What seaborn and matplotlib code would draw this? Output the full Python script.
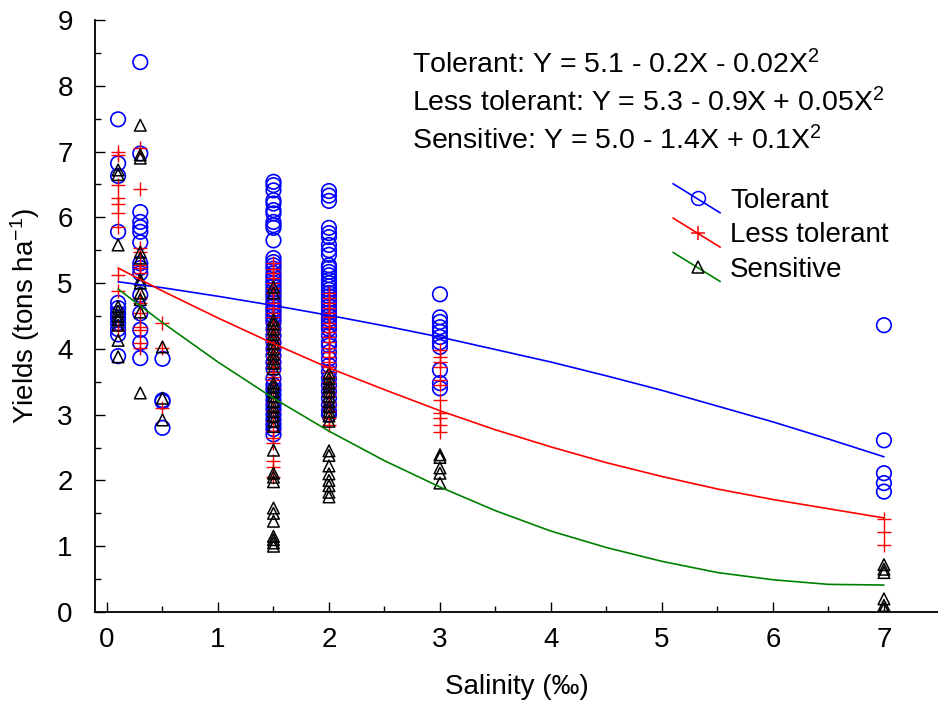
import numpy as np
import pandas as pd
import matplotlib
matplotlib.use("Agg")
import matplotlib.pyplot as plt
import seaborn as sns
from matplotlib.lines import Line2D
from matplotlib.legend_handler import HandlerBase

# ---------------- data ----------------
groups = ["Tolerant", "Less tolerant", "Sensitive"]

tol_x = [0.1] * 12 + [0.3] * 15 + [0.5] * 4 + [1.5] * 50 + [2] * 43 + [3] * 11 + [7] * 5
tol_y = [7.49, 6.82, 6.63, 5.78, 4.70, 4.62, 4.54, 4.47, 4.39, 4.30, 4.22, 3.89,
         8.36, 6.97, 6.08, 5.93, 5.85, 5.78, 5.62, 5.30, 5.23, 5.15, 4.82, 4.54, 4.29, 4.09, 3.86,
         3.85, 3.22, 3.20, 2.80,
         6.54, 6.49, 6.41, 6.26, 6.21, 6.11, 6.06, 5.93, 5.88, 5.84, 5.65, 5.38, 5.32, 5.27, 5.22,
         5.15, 5.10, 5.05, 5.00, 4.95, 4.90, 4.85, 4.80, 4.75, 4.70, 4.65, 4.60, 4.55, 4.50, 4.45,
         4.40, 4.30, 4.20, 4.10, 4.00, 3.90, 3.80, 3.70, 3.55, 3.45, 3.38, 3.30, 3.22, 3.15, 3.08,
         3.00, 2.92, 2.85, 2.78, 2.70,
         6.40, 6.33, 6.25, 5.84, 5.76, 5.70, 5.58, 5.50, 5.43, 5.27, 5.23, 5.17, 5.12, 5.05, 5.00,
         4.95, 4.90, 4.85, 4.80, 4.75, 4.70, 4.65, 4.60, 4.55, 4.50, 4.45, 4.40, 4.35, 4.30, 4.20,
         4.10, 4.05, 3.95, 3.85, 3.75, 3.65, 3.55, 3.45, 3.35, 3.25, 3.15, 3.05, 3.00,
         4.83, 4.48, 4.41, 4.33, 4.26, 4.18, 4.10, 4.03, 3.68, 3.48, 3.40,
         4.36, 2.61, 2.11, 1.96, 1.83]

less_x = [0.1] * 10 + [0.3] * 14 + [0.5] * 3 + [1.5] * 35 + [2] * 27 + [3] * 11 + [7] * 3
less_y = [6.99, 6.95, 6.49, 6.29, 6.21, 6.06, 5.85, 5.12, 4.88, 4.29,
          7.05, 6.43, 5.53, 5.47, 5.27, 5.23, 5.15, 4.77, 4.70, 4.54, 4.33, 4.29, 4.09, 4.01,
          4.39, 4.01, 3.10,
          5.30, 5.22, 5.15, 5.08, 5.00, 4.92, 4.85, 4.78, 4.70, 4.62, 4.55, 4.48, 4.40, 4.32, 4.25,
          4.18, 4.10, 4.02, 3.95, 3.88, 3.80, 3.72, 3.65, 3.58, 3.52, 3.40, 3.20, 3.05, 2.90, 2.75,
          2.65, 2.57, 2.30, 2.20, 2.05,
          4.85, 4.78, 4.70, 4.62, 4.55, 4.48, 4.40, 4.33, 4.25, 4.18, 4.10, 4.02, 3.95, 3.88, 3.80,
          3.72, 3.65, 3.58, 3.50, 3.42, 3.35, 3.28, 3.20, 3.12, 3.05, 2.95, 2.85,
          3.98, 3.88, 3.80, 3.72, 3.53, 3.45, 3.22, 3.02, 2.95, 2.84, 2.74,
          1.42, 1.22, 1.02]

sens_x = [0.1] * 10 + [0.3] * 11 + [0.5] * 3 + [1.5] * 34 + [2] * 19 + [3] * 5 + [7] * 6
sens_y = [6.72, 6.65, 5.58, 4.64, 4.57, 4.50, 4.44, 4.36, 4.13, 3.88,
          7.40, 6.95, 6.90, 5.47, 5.38, 5.05, 5.00, 4.85, 4.75, 4.56, 3.33,
          4.03, 3.25, 2.92,
          4.94, 4.85, 4.44, 4.38, 4.30, 4.22, 4.15, 4.08, 4.00, 3.92, 3.85, 3.78, 3.70, 3.48, 3.42,
          3.35, 3.28, 3.20, 3.12, 3.05, 2.98, 2.90, 2.82, 2.46, 2.11, 2.05, 1.98, 1.58, 1.50, 1.38,
          1.15, 1.10, 1.05, 1.00,
          3.63, 3.55, 3.48, 3.42, 3.35, 3.28, 3.20, 3.12, 3.05, 2.98, 2.90, 2.45, 2.38, 2.22, 2.10,
          2.00, 1.92, 1.82, 1.75,
          2.39, 2.35, 2.19, 2.11, 1.96,
          0.72, 0.65, 0.60, 0.20, 0.10, 0.05]

# fitted curves
curve_x = [0.1, 0.5, 1, 1.5, 2, 2.5, 3, 3.5, 4, 4.5, 5, 5.5, 6, 6.5, 7]
tol_curve = [5.02, 4.93, 4.80, 4.66, 4.51, 4.35, 4.18, 3.99, 3.80, 3.59, 3.37, 3.13, 2.89, 2.63, 2.36]
less_curve = [5.23, 4.88, 4.47, 4.08, 3.71, 3.38, 3.06, 2.77, 2.51, 2.27, 2.06, 1.87, 1.71, 1.57, 1.43]
sens_curve = [4.91, 4.40, 3.80, 3.25, 2.75, 2.30, 1.90, 1.54, 1.23, 0.98, 0.77, 0.60, 0.49, 0.42, 0.41]

equations = ["Tolerant: Y = 5.1 - 0.2X - 0.02X$^{2}$",
             "Less tolerant: Y = 5.3 - 0.9X + 0.05X$^{2}$",
             "Sensitive: Y = 5.0 - 1.4X + 0.1X$^{2}$"]

x_ticks = [0, 1, 2, 3, 4, 5, 6, 7]
y_ticks = [0, 1, 2, 3, 4, 5, 6, 7, 8, 9]

# ---------------- styling ----------------
sns.set_theme(style="ticks")
plt.rcParams["font.family"] = ["Liberation Sans", "DejaVu Sans"]
plt.rcParams["mathtext.fontset"] = "custom"
plt.rcParams["mathtext.rm"] = "Liberation Sans"
plt.rcParams["mathtext.it"] = "Liberation Sans"
plt.rcParams["text.color"] = "black"
plt.rcParams["axes.labelcolor"] = "black"

fig = plt.figure(figsize=(9.38, 7.02), dpi=100)
ax = fig.add_axes([95 / 938, 1 - 612 / 702, (938 - 95) / 938, (612 - 20) / 702])

pts = pd.DataFrame({
    "x": tol_x + less_x + sens_x,
    "y": tol_y + less_y + sens_y,
    "group": ["Tolerant"] * len(tol_x) + ["Less tolerant"] * len(less_x) + ["Sensitive"] * len(sens_x),
})
curves = pd.DataFrame({
    "x": curve_x * 3,
    "y": tol_curve + less_curve + sens_curve,
    "group": ["Tolerant"] * 15 + ["Less tolerant"] * 15 + ["Sensitive"] * 15,
})

line_colors = {"Tolerant": "#0000ff", "Less tolerant": "#ff0000", "Sensitive": "#008000"}
mk = {"Tolerant": dict(marker="o", s=110, facecolor="none", edgecolor="#0000ff", linewidth=1.2),
      "Less tolerant": dict(marker="+", s=110, color="#ff0000", linewidth=1.0),
      "Sensitive": dict(marker="^", s=70, facecolor="none", edgecolor="black", linewidth=1.1)}

for g in ["Tolerant", "Less tolerant", "Sensitive"]:
    d = pts[pts.group == g]
    sns.scatterplot(data=d, x="x", y="y", ax=ax, legend=False, zorder=3, **mk[g])

for g in ["Tolerant", "Less tolerant", "Sensitive"]:
    d = curves[curves.group == g]
    sns.lineplot(data=d, x="x", y="y", ax=ax, color=line_colors[g], linewidth=1.2,
                 legend=False, zorder=4)

ax.set_xlim(-0.108, 7.487)
ax.set_ylim(0, 9)
ax.set_xticks(x_ticks)
ax.set_yticks(y_ticks)
ax.set_xticks(np.arange(0.5, 7.5, 1.0), minor=True)
ax.set_yticks(np.arange(0.5, 9.0, 1.0), minor=True)
ax.tick_params(axis="both", which="major", direction="in", length=7, width=1, labelsize=20,
               colors="black", labelcolor="black")
ax.tick_params(axis="both", which="minor", direction="in", length=4, width=1, colors="black")
ax.tick_params(axis="x", pad=11)
ax.tick_params(axis="y", pad=16)
for s in ["top", "right"]:
    ax.spines[s].set_visible(False)
for s in ["left", "bottom"]:
    ax.spines[s].set_linewidth(1.3)
    ax.spines[s].set_color("black")

ax.set_xlabel("Salinity (‰)", fontsize=20, labelpad=15, color="black")
ax.set_ylabel("Yields (tons ha$^{-1}$)", fontsize=20, labelpad=11, color="black")

for i, eq in enumerate(equations):
    fig.text(412 / 938, 1 - (73 + 38 * i) / 702, eq, fontsize=20.5, ha="left", va="baseline",
             color="black")


class DiagHandler(HandlerBase):
    def create_artists(self, legend, orig_handle, xdescent, ydescent, width, height, fontsize, trans):
        x0, x1 = -xdescent, -xdescent + width
        y0, y1 = -ydescent + height * 1.25, -ydescent - height * 0.25
        ln = Line2D([x0, x1], [y0, y1], color=orig_handle.get_color(), lw=1.2, transform=trans)
        m = Line2D([x0 + width * 0.52], [(y0 + y1) / 2], marker=orig_handle.get_marker(),
                   markersize=orig_handle.get_markersize(), markerfacecolor="none",
                   markeredgecolor=orig_handle.get_markeredgecolor(), linestyle="none",
                   markeredgewidth=1.1, transform=trans)
        return [ln, m]


handles = [
    Line2D([], [], color="#0000ff", marker="o", markersize=10, markeredgecolor="#0000ff"),
    Line2D([], [], color="#ff0000", marker="+", markersize=10, markeredgecolor="#ff0000"),
    Line2D([], [], color="#008000", marker="^", markersize=8, markeredgecolor="black"),
]
leg = ax.legend(handles, groups, loc="upper left", bbox_to_anchor=(673 / 938, 1 - 188 / 702),
                bbox_transform=fig.transFigure, frameon=False, fontsize=20, handlelength=1.7,
                handletextpad=0.35, labelspacing=0.3, borderpad=0, borderaxespad=0,
                handler_map={Line2D: DiagHandler()})
for t in leg.get_texts():
    t.set_color("black")

fig.savefig("out.png", dpi=100)
